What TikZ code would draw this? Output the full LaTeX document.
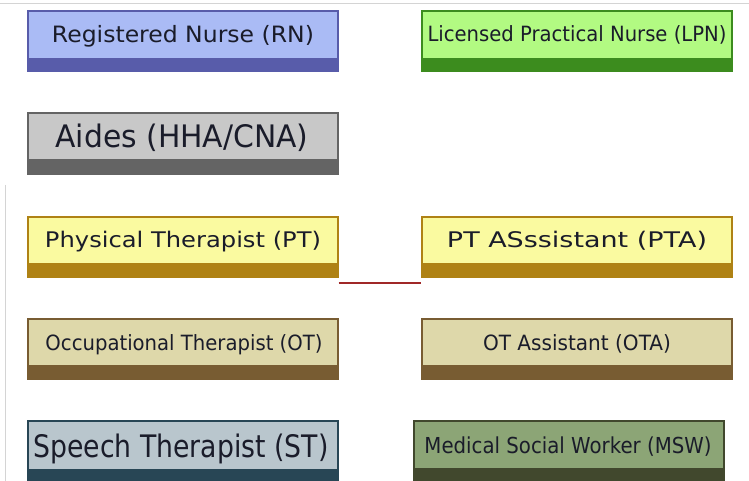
\documentclass[tikz,border=0pt]{standalone}
\usepackage{fontspec}
\usepackage{graphicx}
\setmainfont{DejaVu Sans}
\newcommand\fitw[3]{\resizebox{#1}{\height}{\fontsize{#2}{#2}\selectfont #3}}
\definecolor{rnL}{HTML}{AABBF5}\definecolor{rnD}{HTML}{585CAA}
\definecolor{lpnL}{HTML}{B2FA82}\definecolor{lpnD}{HTML}{3C8C1E}
\definecolor{aiL}{HTML}{C8C8C8}\definecolor{aiD}{HTML}{646464}
\definecolor{ptL}{HTML}{FAFAA0}\definecolor{ptD}{HTML}{AF8214}
\definecolor{otL}{HTML}{DED8AA}\definecolor{otD}{HTML}{785C32}
\definecolor{stL}{HTML}{B9C6CD}\definecolor{stD}{HTML}{284655}
\definecolor{mswL}{HTML}{8CA576}\definecolor{mswD}{HTML}{41482D}
\definecolor{linkred}{HTML}{A02828}
\definecolor{txtc}{HTML}{1A1C2A}
\definecolor{framec}{HTML}{D4D4D4}
\begin{document}
\begin{tikzpicture}[x=1pt,y=-1pt,
  box/.style n args={3}{fill=#1, draw=#2, line width=1.2pt, minimum width=310pt,
    minimum height=60pt, inner sep=0pt,
    path picture={\fill[#2] ([yshift=#3]path picture bounding box.south west) rectangle (path picture bounding box.south east);}},
  txt/.style={anchor=base, inner sep=0pt, text=txtc},
  conn/.style={draw=linkred, line width=2.2pt},
  frame/.style={draw=framec, line width=1pt}]
\useasboundingbox (0,0) rectangle (749,481);
\fill[white] (0,0) rectangle (749,481);
\draw[frame] (0,4) -- (749,4);
\draw[frame] (5,185) -- (5,481);
% boxes
\node[box={rnL}{rnD}{13pt}] (rn) at (183,41) {};
\node[box={lpnL}{lpnD}{13pt}] (lpn) at (577,41) {};
\node[box={aiL}{aiD}{15pt}, minimum height=61pt] (ai) at (183,143.5) {};
\node[box={ptL}{ptD}{14pt}] (pt) at (183,247) {};
\node[box={ptL}{ptD}{14pt}] (pta) at (577,247) {};
\node[box={otL}{otD}{14pt}] (ot) at (183,349) {};
\node[box={otL}{otD}{14pt}] (ota) at (577,349) {};
\node[box={stL}{stD}{14pt}, minimum height=62pt] (st) at (183,452) {};
\node[box={mswL}{mswD}{15pt}, minimum height=62pt] (msw) at (569,452) {};
% texts
\node[txt] (rnT) at (183,43) {\fitw{262pt}{22.5pt}{Registered Nurse (RN)}};
\node[txt] (lpnT) at (577,42) {\fitw{299pt}{21pt}{Licensed Practical Nurse (LPN)}};
\node[txt] (aiT) at (182,147.5) {\fitw{253pt}{31pt}{Aides (HHA/CNA)}};
\node[txt] (ptT) at (183,247.5) {\fitw{276pt}{21.5pt}{Physical Therapist (PT)}};
\node[txt] (ptaT) at (577,247.5) {\fitw{260pt}{21.5pt}{PT ASssistant (PTA)}};
\node[txt] (otT) at (184,350) {\fitw{277pt}{21pt}{Occupational Therapist (OT)}};
\node[txt] (otaT) at (577,350) {\fitw{188pt}{21pt}{OT Assistant (OTA)}};
\node[txt] (stT) at (181,457) {\fitw{295pt}{31pt}{Speech Therapist (ST)}};
\node[txt] (mswT) at (568,453) {\fitw{287pt}{22pt}{Medical Social Worker (MSW)}};
% connector
\draw[conn] ([yshift=-5pt]pt.south east) -- ([yshift=-5pt]pta.south west);
\end{tikzpicture}
\end{document}
